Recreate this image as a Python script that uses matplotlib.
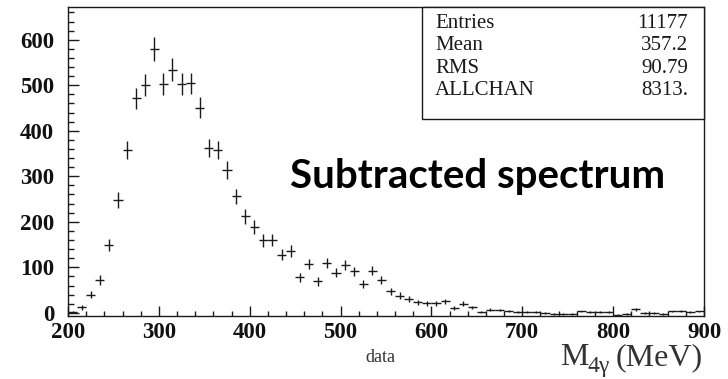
import matplotlib
matplotlib.use("Agg")
import matplotlib.pyplot as plt
from matplotlib.patches import Rectangle
from matplotlib.ticker import MultipleLocator

# 10 MeV bins from 200 to 900 MeV (bin centres)
bin_centers = list(range(205, 900, 10))
bin_half_width = 5

counts = [
    2, 12, 40, 72, 149, 248, 357, 471, 501, 580,
    502, 534, 502, 504, 451, 362, 357, 314, 256, 212,
    189, 159, 160, 128, 135, 78, 107, 69, 110, 88,
    106, 91, 64, 92, 72, 47, 38, 30, 23, 21,
    21, 25, 11, 20, 12, 2, 7, 6, 4, 2,
    2, 1, 0, -3, -3, -3, 3, 1, 1, 1,
    -4, -2, 8, 0, -1, -2, 3, 4, 1, 3,
]
errors = [
    3, 5, 8, 10, 13, 17, 20, 23, 24, 26,
    24, 25, 24, 24, 23, 20, 20, 19, 17, 16,
    15, 14, 14, 12, 13, 10, 11, 10, 11, 10,
    11, 10, 9, 10, 9, 7, 7, 6, 5, 5,
    5, 5, 4, 5, 4, 3, 3, 3, 3, 2,
    2, 2, 2, 2, 2, 2, 2, 2, 2, 2,
    2, 2, 3, 2, 2, 2, 2, 2, 2, 2,
]

stat_names = ["Entries", "Mean", "RMS", "ALLCHAN"]
stat_values = ["11177", "357.2", "90.79", "8313."]

W, H = 728, 379
fig = plt.figure(figsize=(W / 100, H / 100), dpi=100)
ax = fig.add_axes([68 / W, 1 - 316 / H, (704 - 68) / W, (316 - 7) / H])

ink = "#1a1a1a"
ax.errorbar(bin_centers, counts, yerr=errors, xerr=bin_half_width,
            fmt="none", ecolor=ink, elinewidth=1.0, capsize=0)

ax.set_xlim(200, 900)
ax.set_ylim(-7, 672)

ax.xaxis.set_major_locator(MultipleLocator(100))
ax.xaxis.set_minor_locator(MultipleLocator(20))
ax.yaxis.set_major_locator(MultipleLocator(100))
ax.yaxis.set_minor_locator(MultipleLocator(20))
ax.tick_params(which="both", direction="in", top=False, right=False,
               color=ink, width=1.0)
ax.tick_params(axis="y", which="major", length=8, pad=10)
ax.tick_params(axis="y", which="minor", length=4.3)
ax.tick_params(axis="x", which="major", length=7.5, pad=4)
ax.tick_params(axis="x", which="minor", length=3.8)
for lbl in ax.get_xticklabels() + ax.get_yticklabels():
    lbl.set_fontfamily("Liberation Serif")
    lbl.set_fontweight("bold")
    lbl.set_fontsize(16.5)
    lbl.set_color("#111111")
for sp in ax.spines.values():
    sp.set_color(ink)
    sp.set_linewidth(1.0)

# Statistics box in the top-right corner of the frame
x0 = (422 - 68) / (704 - 68)
y0 = (316 - 119) / (316 - 7)
ax.add_patch(Rectangle((x0, y0), 1 - x0, 1 - y0, transform=ax.transAxes,
                       facecolor="white", edgecolor=ink, linewidth=1.0,
                       zorder=5, clip_on=False))
for i, (name, val) in enumerate(zip(stat_names, stat_values)):
    base = [28.3, 50.5, 72.7, 95.0][i]
    fig.text(435 / W, 1 - base / H, name, ha="left", va="baseline",
             family="Liberation Serif", fontsize=15, color=ink, zorder=6)
    fig.text(688 / W, 1 - base / H, val, ha="right", va="baseline",
             family="Liberation Serif", fontsize=15, color=ink, zorder=6)

fig.text(290 / W, 1 - 188 / H, "Subtracted spectrum", ha="left",
         va="baseline", family="Lato", fontweight="bold", fontsize=29,
         color="black")

# Axis title: M with subscript 4γ, then the unit
title_kw = dict(va="baseline", family="Liberation Serif", color="#333333")
fig.text(560 / W, 1 - 365 / H, "M", ha="left", fontsize=23, **title_kw)
fig.text(588 / W, 1 - 372 / H, "4γ", ha="left", fontsize=17, **title_kw)
fig.text(703 / W, 1 - 365 / H, "(MeV)", ha="right", fontsize=23, **title_kw)
fig.text(380 / W, 1 - 362 / H, "data", ha="center", va="baseline",
         family="Liberation Serif", fontsize=13, color="#333333")

fig.savefig("out.png", dpi=100)
